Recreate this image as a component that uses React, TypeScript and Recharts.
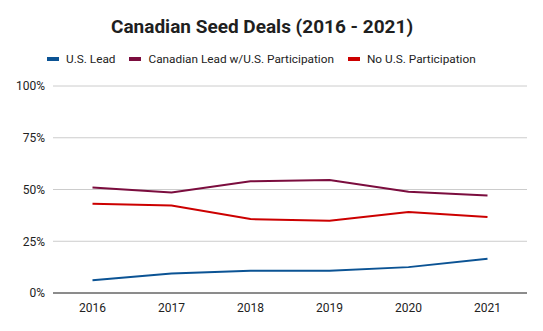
import React from 'react';
import { LineChart, Line, XAxis, YAxis, CartesianGrid } from 'recharts';

const years = ['2016', '2017', '2018', '2019', '2020', '2021'];
const usLead = [6.2, 9.4, 10.7, 10.8, 12.5, 16.5];
const canadianLead = [51, 48.6, 54, 54.6, 48.9, 47.1];
const noUs = [43.1, 42.3, 35.7, 34.9, 39.1, 36.7];
const yTicks = [0, 25, 50, 75, 100];

const series = [
  { key: 'usLead', name: 'U.S. Lead', color: '#0b5394' },
  { key: 'canadianLead', name: 'Canadian Lead w/U.S. Participation', color: '#7b0d3e' },
  { key: 'noUs', name: 'No U.S. Participation', color: '#cc0000' },
];

const data = years.map((year, i) => ({
  year,
  usLead: usLead[i],
  canadianLead: canadianLead[i],
  noUs: noUs[i],
}));

const font = 'Roboto, sans-serif';

export default function App() {
  return (
    <div style={{ position: 'absolute', left: 0, top: 0, width: 543, height: 331, background: '#fff', fontFamily: font }}>
      <div
        style={{
          position: 'absolute',
          top: 15,
          left: 111,
          whiteSpace: 'nowrap',
          fontSize: 19,
          fontWeight: 700,
          color: '#1f1f1f',
        }}
      >
        Canadian Seed Deals (2016 - 2021)
      </div>
      <div
        style={{
          position: 'absolute',
          top: 52,
          left: 47,
          display: 'flex',
          alignItems: 'center',
          fontSize: 11.8,
          color: '#222',
          whiteSpace: 'nowrap',
        }}
      >
        {series.map((s) => (
          <div key={s.key} style={{ display: 'flex', alignItems: 'center', marginRight: 14 }}>
            <span style={{ display: 'inline-block', width: 12, height: 4, background: s.color, marginRight: 7 }} />
            <span>{s.name}</span>
          </div>
        ))}
      </div>
      <LineChart width={543} height={331} data={data} margin={{ top: 86, right: 16, bottom: 8, left: 0 }}>
        <CartesianGrid vertical={false} stroke="#cccccc" />
        <XAxis
          dataKey="year"
          padding={{ left: 39.5, right: 39.5 }}
          tickLine={false}
          axisLine={{ stroke: '#333' }}
          tick={{ fontSize: 12, fill: '#222', fontFamily: font }}
          tickMargin={4}
          height={30}
        />
        <YAxis
          domain={[0, 100]}
          ticks={yTicks}
          tickFormatter={(v) => `${v}%`}
          axisLine={false}
          tickLine={false}
          tick={{ fontSize: 12, fill: '#222', fontFamily: font }}
          width={53}
        />
        {series.map((s) => (
          <Line
            key={s.key}
            type="linear"
            dataKey={s.key}
            name={s.name}
            stroke={s.color}
            strokeWidth={2}
            dot={false}
            isAnimationActive={false}
          />
        ))}
      </LineChart>
    </div>
  );
}
